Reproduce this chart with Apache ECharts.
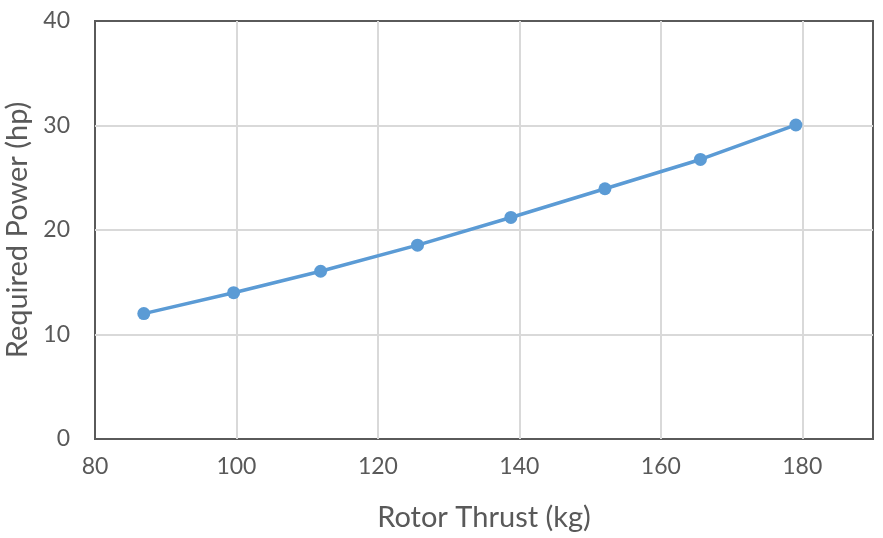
<!DOCTYPE html>
<html><head><meta charset="utf-8">
<script src="https://cdn.jsdelivr.net/npm/echarts@6/dist/echarts.min.js"></script>
<style>html,body{margin:0;padding:0;background:#fff}#c{width:883px;height:538px}</style>
</head><body><div id="c"></div>
<script>
const thrust = [86.9, 99.6, 111.9, 125.6, 138.8, 152.1, 165.6, 179.1];
const power = [12.0, 14.0, 16.05, 18.55, 21.2, 23.95, 26.75, 30.05];
const xTitle = 'Rotor Thrust (kg)';
const yTitle = 'Required Power (hp)';
const FONT = 'Lato';
const chart = echarts.init(document.getElementById('c'));
chart.setOption({
  animation: false,
  grid: {left: 95, right: 10, top: 21, bottom: 99, outerBoundsMode: 'none', containLabel: false,
         show: true, borderColor: '#5a5a5a', borderWidth: 2, backgroundColor: 'transparent'},
  xAxis: {
    type: 'value', min: 80, max: 190, interval: 20,
    name: xTitle, nameLocation: 'middle', nameGap: 64,
    nameTextStyle: {fontFamily: FONT, fontSize: 29, color: '#595959'},
    axisLine: {show: false}, axisTick: {show: false},
    axisLabel: {fontFamily: FONT, fontSize: 23, color: '#595959', margin: 16,
      formatter: v => v === 190 ? '' : String(v)},
    splitLine: {showMinLine: false, showMaxLine: false, lineStyle: {color: '#d9d9d9', width: 2}}
  },
  yAxis: {
    type: 'value', min: 0, max: 40, interval: 10,
    name: yTitle, nameLocation: 'middle', nameGap: 60,
    nameTextStyle: {fontFamily: FONT, fontSize: 29, color: '#595959'},
    axisLine: {show: false}, axisTick: {show: false},
    axisLabel: {fontFamily: FONT, fontSize: 23, color: '#595959', margin: 25},
    splitLine: {showMinLine: false, showMaxLine: false, lineStyle: {color: '#d9d9d9', width: 2}}
  },
  series: [{
    type: 'line', data: thrust.map((x, i) => [x, power[i]]),
    symbol: 'circle', symbolSize: 13,
    lineStyle: {color: '#5B9BD5', width: 3.5},
    itemStyle: {color: '#5B9BD5'}
  }]
});
</script></body></html>
